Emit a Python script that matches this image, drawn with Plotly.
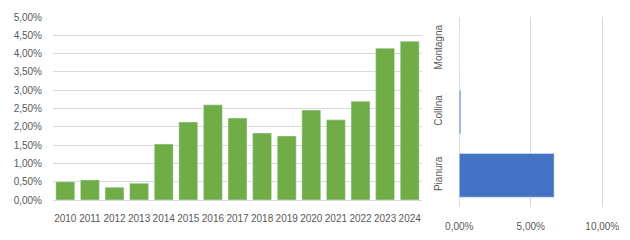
import plotly.graph_objects as go

years = [str(y) for y in range(2010, 2025)]
share = [0.0050, 0.0055, 0.0035, 0.0046, 0.0153, 0.0213, 0.0260, 0.0224, 0.0183, 0.0175,
         0.0246, 0.0219, 0.0270, 0.0415, 0.0434]

zones = ["Pianura", "Collina", "Montagna"]
zone_share = [0.0663, 0.0010, 0.0]

W, H = 630, 240
def px_x(v): return v / W
def px_y(v): return (H - v) / H

FONT = dict(family="Liberation Sans, Arial, sans-serif", size=10, color="#595959")
GRID = "#D9D9D9"

fig = go.Figure()
fig.add_trace(go.Bar(x=years, y=share, marker_color="#70AD47", xaxis="x", yaxis="y",
                     hoverinfo="skip"))
fig.add_trace(go.Bar(y=zones, x=zone_share, orientation="h", marker_color="#4472C4",
                     xaxis="x2", yaxis="y2", hoverinfo="skip"))

fig.update_layout(
    width=W, height=H, margin=dict(l=0, r=0, t=0, b=0, autoexpand=False),
    paper_bgcolor="white", plot_bgcolor="white",
    showlegend=False, separators=",.", font=FONT, bargap=0.23,
    xaxis=dict(domain=[px_x(53), px_x(422)], type="category", showgrid=False,
               showline=True, linecolor=GRID, linewidth=1, ticks="", tickangle=0,
               ticklabelstandoff=9, tickfont=FONT, anchor="y", automargin=False),
    yaxis=dict(domain=[px_y(200), px_y(16.7)], range=[0, 0.0501], dtick=0.005,
               tickformat=".2%", showgrid=True, gridcolor=GRID, gridwidth=1,
               zeroline=False, showline=False, ticklabelstandoff=10,
               tickfont=FONT, anchor="x", automargin=False),
    xaxis2=dict(domain=[px_x(459.0), px_x(604.0)], range=[-0.0002, 0.1012], dtick=0.05,
                tick0=0, tickformat=".2%", showgrid=True, gridcolor=GRID, gridwidth=1,
                zeroline=True, zerolinecolor=GRID, zerolinewidth=1,
                showline=False, ticklabelstandoff=12, tickangle=0,
                tickfont=FONT, anchor="y2", automargin=False),
    yaxis2=dict(domain=[px_y(207), px_y(17)], type="category", showgrid=False,
                showline=False, ticks="", tickangle=-90, ticklabelstandoff=14,
                tickfont=FONT, anchor="x2", automargin=False),
)
fig.update_traces(selector=dict(xaxis="x2"), width=0.69)

fig.write_html("out.html")
